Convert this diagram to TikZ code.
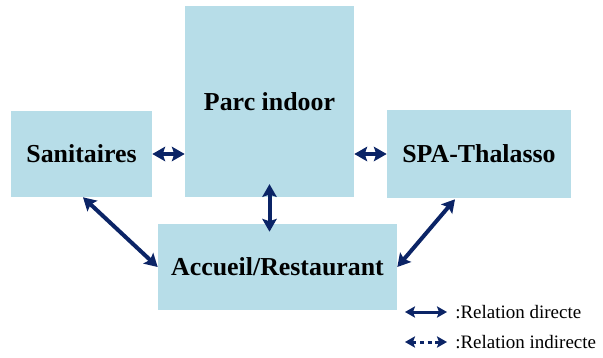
\documentclass[tikz,border=0pt]{standalone}
\usepackage{fontspec}
\setmainfont{Liberation Serif}
\usepackage{xcolor}
\usepackage{tikz}
\usetikzlibrary{arrows.meta, positioning, calc}
\definecolor{zonefill}{HTML}{B7DDE8}
\definecolor{relnavy}{HTML}{0B2466}

\begin{document}
\begin{tikzpicture}[
    x=0.025cm, y=-0.025cm,
    box/.style={fill=zonefill, draw=none, inner sep=0pt, font=\fontsize{18.4}{22}\selectfont\bfseries},
    rel/.style={line width=0.1cm, relnavy, {Stealth[length=0.32cm, width=0.36cm, inset=0.06cm]}-{Stealth[length=0.32cm, width=0.36cm, inset=0.06cm]}},
    legrel/.style={line width=0.075cm, relnavy, {Stealth[length=0.25cm, width=0.28cm, inset=0.05cm]}-{Stealth[length=0.25cm, width=0.28cm, inset=0.05cm]}},
    legtext/.style={anchor=west, inner sep=0pt, font=\fontsize{13.5}{16}\selectfont},
]
    \useasboundingbox (0,0) rectangle (603,357);

    % zones
    \node[box, minimum width=3.525cm, minimum height=2.15cm] (san) at (81.5,154) {Sanitaires};
    \node[box, minimum width=4.225cm, minimum height=4.775cm] (parc) at (269.5,101.5) {Parc indoor};
    \node[box, minimum width=4.6cm, minimum height=2.2cm] (spa) at (479,154) {SPA-Thalasso};
    \node[box, minimum width=5.975cm, minimum height=2.15cm] (acc) at (277.5,267) {Accueil/Restaurant};

    % relations
    \draw[rel] (san.east) -- (san.east -| parc.west);
    \draw[rel] (parc.east |- spa.west) -- (spa.west);
    \draw[rel, shorten <=-0.33cm, shorten >=-0.2cm] (parc.south) -- (parc.south |- acc.north);
    \draw[rel] ($(san.south)+(1.5,0)$) -- (acc.west);
    \draw[rel] ($(spa.south)+(-24,1)$) -- (acc.east);

    % legend
    \node[legtext] (leg1) at (455,312) {:Relation directe};
    \node[legtext] (leg2) at (455,342) {:Relation indirecte};
    \coordinate (l1) at (405,312);
    \coordinate (l2) at (405,342);
    \draw[legrel, shorten >=0.2cm] (l1) -- (leg1.west);
    \draw[legrel, dash pattern=on 0.1cm off 0.09cm, shorten >=0.2cm] (l2) -- (leg2.west);
\end{tikzpicture}
\end{document}
